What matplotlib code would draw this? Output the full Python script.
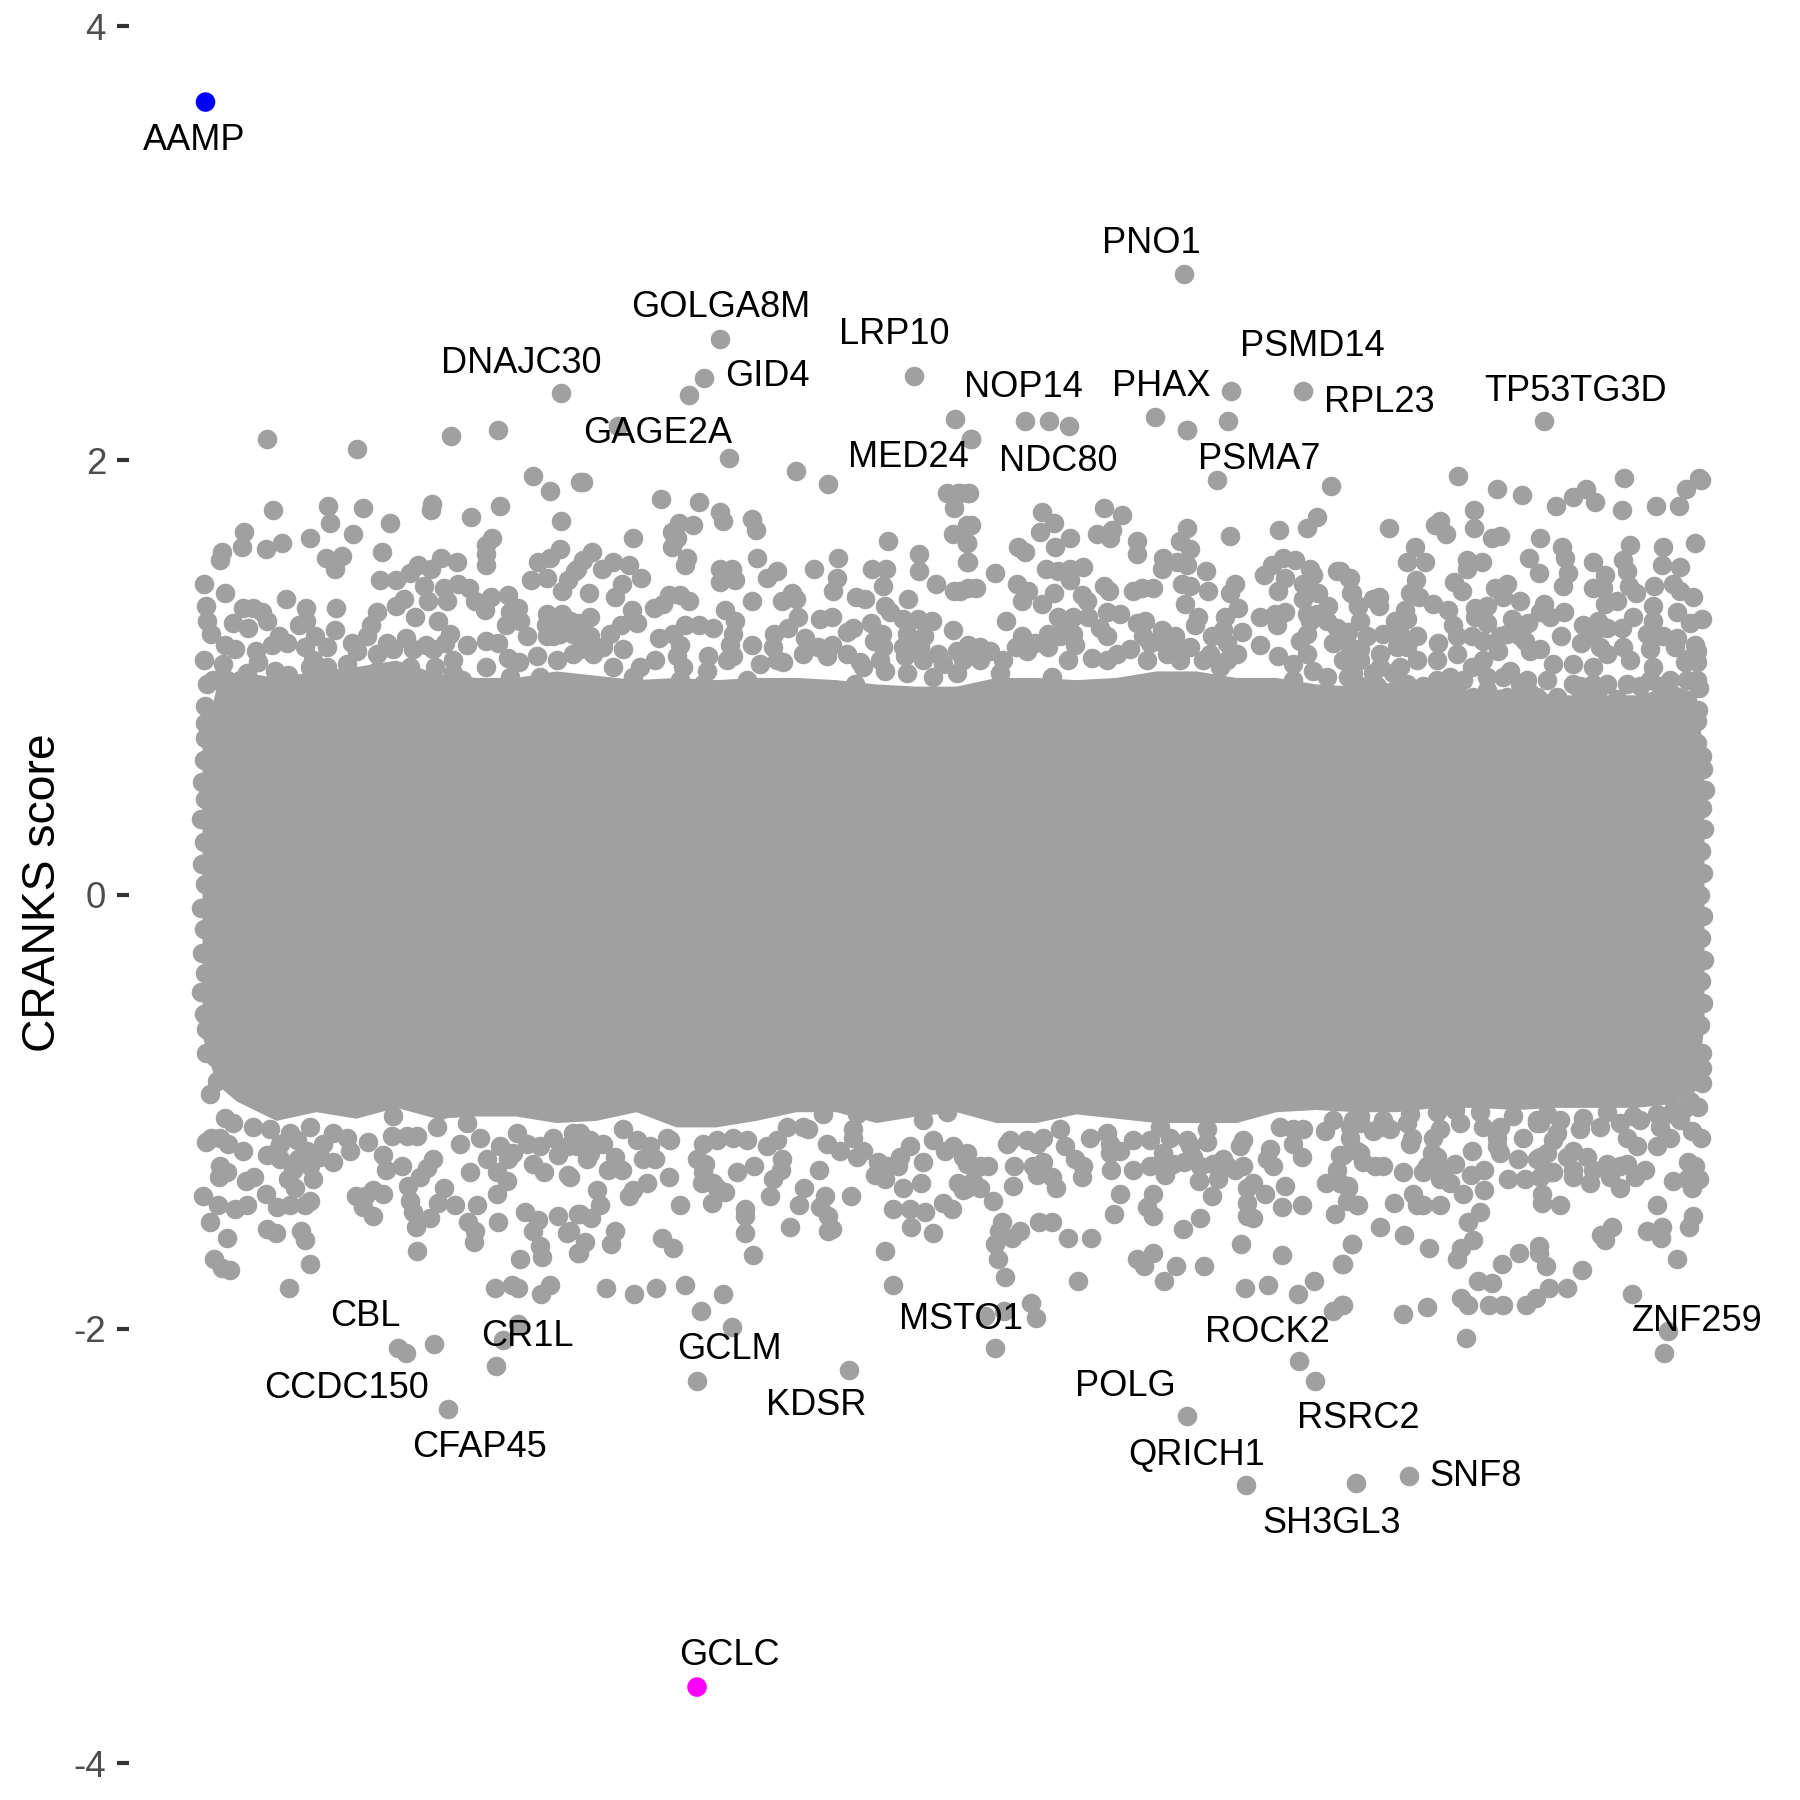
import numpy as np
import matplotlib
matplotlib.use("Agg")
import matplotlib.pyplot as plt

plt.rcParams['font.family'] = ['Liberation Sans', 'DejaVu Sans']

GREY = '#A0A0A0'

# solid part of the cloud : too many genes overlap there to read them one by one
env_rank = [6, 20, 40, 80, 120, 160, 200, 240, 280, 320, 360, 400, 440, 480, 520, 560, 600, 640, 680, 720, 760, 800,
            840, 880, 920, 960, 1000, 1040, 1080, 1120, 1160, 1200, 1240, 1280, 1320, 1360, 1400, 1440, 1480, 1500, 1508]
env_top = [0.68, 0.95, 1.03, 1.00, 1.03, 1.05, 1.08, 1.02, 1.00, 1.00, 1.03, 1.01, 0.99, 1.00, 0.99, 1.00, 1.00, 0.99, 0.97, 0.96, 0.96, 1.00,
           1.00, 0.99, 1.00, 1.03, 1.03, 1.00, 1.00, 0.97, 0.96, 0.98, 0.96, 0.94, 0.95, 0.92, 0.92, 0.92, 0.96, 0.93, 0.62]
env_bottom = [-0.65, -0.87, -0.95, -1.04, -1.00, -1.03, -0.98, -1.03, -1.02, -1.02, -1.05, -1.04, -1.00, -1.07, -1.07, -1.04, -1.00, -1.00, -1.05, -1.02, -1.00, -1.05,
              -1.05, -1.01, -1.03, -1.05, -1.05, -1.05, -1.00, -0.99, -1.00, -1.00, -0.98, -0.98, -0.99, -0.98, -0.98, -0.98, -0.96, -0.90, -0.60]

# genes on the sides of the cloud (rank, score)
side_left = [(8,0.62),(6,0.52),(9,0.44),(5,0.35),(8,0.24),(6,0.14),(9,0.05),(5,-0.06),(8,-0.16),(6,-0.27),(9,-0.36),(5,-0.45),(8,-0.55),(10,-0.62)]
side_right = [(1507,0.58),(1509,0.48),(1506,0.40),(1508,0.30),(1505,0.20),(1507,0.10),(1504,0.00),(1507,-0.10),(1505,-0.20),(1508,-0.30),(1505,-0.40),(1507,-0.50),(1504,-0.60)]

# genes along the cloud edge on the right part
rim_top = [(1177,1.02),(1197,1.02),(1254,0.97),(1291,0.94),(1341,0.91),(1357,0.88),(1384,0.96),(1401,0.93),(1421,0.90),(1444,0.96),(1464,0.96)]
rim_low = [(1164,-1.02),(1187,-1.04),(1214,-1.01),(1241,-1.00),(1259,-0.99),(1284,-1.00),(1317,-1.02),(1341,-1.04),(1364,-1.04),(1387,-1.03),(1411,-1.00),(1437,-1.02),(1461,-1.01),(1477,-0.99),(1497,-0.97)]

# genes above the cloud (rank, score)
top_a = [(71,2.10),(161,2.05),(255,2.11),(302,2.14),(337,1.93),(354,1.86),(384,1.90),(365,1.72),(77,1.77),(132,1.79),(167,1.78),(134,1.71),(157,1.66),(194,1.71),
         (236,1.80),(235,1.77),(275,1.74),(304,1.79),(48,1.67),(46,1.60),(26,1.58),(24,1.54),(70,1.59),(86,1.62),(114,1.64),(130,1.55),(146,1.56),(139,1.50),(186,1.58),
         (296,1.64),(290,1.61),(290,1.57),(290,1.52),(364,1.59),(342,1.53),(354,1.55),(335,1.45),(351,1.46),(366,1.40),(372,1.45),(381,1.50),(8,1.43),(29,1.39),(184,1.45),
         (200,1.45),(214,1.48),(222,1.52),(235,1.50),(245,1.55),(261,1.53),(228,1.42),(248,1.41),(262,1.43),(273,1.41),(279,1.35),(289,1.31),(295,1.37),(312,1.38),(251,1.35),
         (208,1.36),(200,1.33),(232,1.35),(219,1.28),(242,1.26),(254,1.20),(90,1.36),(110,1.32),(140,1.32),(10,1.33),(11,1.26),(47,1.32),(57,1.32),(66,1.30),(37,1.25),(52,1.23),
         (71,1.26),(110,1.26),(103,1.24),(139,1.22),(181,1.30),(175,1.24),(314,1.30),(322,1.32),(324,1.26),(310,1.24),(331,1.19),(351,1.29),(366,1.29),(382,1.25),(350,1.24),(357,1.19),
         (341,1.10),(15,1.20),(29,1.15),(39,1.13),(8,1.08),(27,1.06),(60,1.12),(76,1.15),(83,1.19),(91,1.16),(109,1.14),(119,1.19),(131,1.14),(156,1.16),(171,1.19),(191,1.16),(210,1.18),
         (230,1.15),(249,1.16),(271,1.15),(290,1.17),(302,1.16),(312,1.09),(323,1.07),(290,1.05),(266,0.99),(257,1.08),(239,1.05),(214,1.05),(181,1.03),(151,1.06),(114,1.05),(92,1.01),
         (79,1.03),(62,1.07),(11,0.97),(9,0.87),(52,0.90),(84,0.90),(107,0.93),(9,0.79),(9,0.72),
         (17,0.99),(31,0.99),(51,1.02),(77,0.97),(131,1.05),(161,1.12),(181,1.11),(197,1.13),(217,1.13),(237,1.13),(257,1.02),(117,1.08),(314,1.00),(344,1.00),(361,1.08),(377,1.11),(377,1.20),
         (364,1.20),(351,1.19),(361,1.25),(374,1.26)]
top_b = [(533,2.01),(600,1.95),(632,1.89),(387,1.90),(465,1.82),(503,1.81),(524,1.76),(527,1.72),(556,1.73),(560,1.68),(751,1.85),(762,1.85),(772,1.85),(758,1.78),(757,1.66),(771,1.70),
         (771,1.62),(771,1.53),(692,1.63),(483,1.71),(497,1.70),(476,1.67),(481,1.64),(476,1.60),(437,1.64),(491,1.55),(489,1.52),(396,1.58),(387,1.54),(379,1.49),(406,1.50),(417,1.53),
         (433,1.52),(445,1.46),(393,1.39),(426,1.43),(419,1.37),(436,1.31),(441,1.25),(425,1.24),(394,1.28),(561,1.55),(581,1.49),(571,1.46),(524,1.50),(536,1.50),(524,1.44),(539,1.45),
         (618,1.50),(642,1.55),(641,1.46),(637,1.40),(676,1.50),(690,1.50),(687,1.42),(723,1.57),(723,1.49),(740,1.43),(758,1.40),(712,1.36),(772,1.41),(660,1.37),(669,1.36),(689,1.33),
         (694,1.30),(556,1.35),(586,1.35),(596,1.39),(600,1.36),(602,1.28),(592,1.23),(578,1.20),(473,1.38),(484,1.38),(493,1.35),(458,1.32),(467,1.34),(529,1.31),(539,1.26),(537,1.20),
         (489,1.24),(503,1.24),(517,1.23),(477,1.20),(463,1.18),(624,1.27),(636,1.28),(651,1.21),(657,1.23),(675,1.25),(686,1.20),(678,1.17),(687,1.14),(707,1.27),(722,1.27),(736,1.26),
         (711,1.20),(728,1.19),(757,1.22),(709,1.10),(742,1.11),(761,1.12),(772,1.15),(556,1.15),(577,1.14),(609,1.18),(622,1.14),(636,1.15),(651,1.11),(664,1.07),(689,1.03),(534,1.15),
         (537,1.10),(512,1.10),(484,1.15),(459,1.08),(427,1.13),(414,1.20),(374,1.25),(384,1.23),(397,1.11),(417,1.05),(437,1.00),(551,0.99),(587,1.07),(711,1.02),(737,1.00),(761,1.02),
         (659,0.97),(507,0.97),(484,0.99),(394,0.96),
         (384,1.13),(407,1.14),(394,1.19),(444,1.05),(481,1.10),(531,1.08),(564,1.06),(581,1.08),(607,1.11),(631,1.10),(667,1.05),(684,1.08),(727,1.08),(747,1.06),(767,1.08),(707,1.14),(724,1.14),
         (487,1.05),(511,1.03)]
top_c = [(1021,1.91),(1135,1.88),(775,2.10),(991,2.14),(773,1.85),(764,1.85),(846,1.76),(858,1.71),(844,1.67),(874,1.64),(859,1.60),(822,1.60),(829,1.58),(908,1.78),(926,1.75),(901,1.66),
         (916,1.68),(914,1.64),(941,1.63),(941,1.57),(991,1.69),(984,1.63),(994,1.59),(967,1.55),(966,1.50),(981,1.53),(991,1.52),(1034,1.65),(1083,1.68),(1121,1.74),(1111,1.69),(775,1.70),
         (771,1.62),(772,1.53),(780,1.41),(799,1.48),(764,1.40),(821,1.43),(832,1.40),(826,1.35),(850,1.50),(862,1.49),(874,1.50),(887,1.51),(874,1.45),(858,1.39),(846,1.34),(886,1.38),
         (891,1.35),(908,1.42),(913,1.40),(937,1.40),(946,1.41),(957,1.41),(1010,1.49),(1012,1.40),(1039,1.43),(1034,1.39),(1042,1.32),(986,1.43),(994,1.42),(989,1.34),(1002,1.28),(999,1.24),
         (1029,1.28),(1068,1.47),(1076,1.52),(1087,1.55),(1099,1.54),(1089,1.46),(1082,1.40),(1114,1.50),(1117,1.47),(1107,1.43),(1122,1.39),(1107,1.36),(1132,1.33),(1141,1.49),(1154,1.46),
         (1156,1.39),(1162,1.33),(810,1.26),(826,1.19),(820,1.14),(831,1.12),(839,1.16),(852,1.14),(852,1.20),(862,1.28),(877,1.28),(892,1.28),(911,1.30),(924,1.29),(941,1.25),(949,1.26),
         (911,1.19),(879,1.15),(872,1.08),(896,1.09),(966,1.22),(979,1.19),(934,1.13),(954,1.16),(994,1.14),(1016,1.19),(1031,1.16),(1046,1.21),(1064,1.28),(1079,1.29),(1089,1.30),(1081,1.24),
         (1064,1.15),(1082,1.10),(1111,1.20),(1131,1.26),(1141,1.23),(1152,1.21),(1137,1.16),(1111,1.11),(1117,1.03),(1097,1.06),(1156,1.11),(1152,1.00),(774,1.13),(794,1.12),(784,1.14),(856,1.00),
         (804,1.02),(1024,1.05),
         (784,1.08),(807,1.08),(911,1.08),(921,1.11),(951,1.08),(971,1.11),(984,1.08),(1007,1.08),(1031,1.08),(1097,0.99),(1131,1.00),(1157,1.02),(864,1.19),(877,1.20),(867,1.23),(904,1.23),(947,1.19),
         (961,1.17),(977,1.13),(1014,1.11),(1027,1.22),(1114,1.26),(1111,1.29),(1121,1.29),(1104,1.17),(1041,1.11)]
top_d = [(1262,1.93),(1301,1.87),(1326,1.84),(1360,1.79),(1377,1.83),(1390,1.87),(1399,1.81),(1428,1.92),(1426,1.77),(1460,1.79),(1483,1.79),(1490,1.87),(1503,1.92),(1505,1.91),(1193,1.69),
         (1278,1.77),(1278,1.69),(1244,1.72),(1239,1.70),(1250,1.66),(1296,1.64),(1304,1.65),(1344,1.64),(1219,1.60),(1366,1.60),(1369,1.55),(1372,1.48),(1367,1.42),(1333,1.55),(1343,1.48),
         (1434,1.61),(1427,1.54),(1431,1.49),(1467,1.60),(1466,1.52),(1484,1.51),(1499,1.62),(1397,1.53),(1409,1.47),(1397,1.41),(1407,1.41),(1433,1.42),(1440,1.39),(1458,1.42),(1477,1.43),
         (1484,1.40),(1497,1.37),(1421,1.35),(1409,1.34),(1211,1.53),(1229,1.53),(1220,1.45),(1214,1.39),(1223,1.37),(1237,1.34),(1271,1.54),(1286,1.53),(1271,1.50),(1258,1.44),(1266,1.40),
         (1252,1.31),(1299,1.41),(1311,1.43),(1307,1.37),(1324,1.35),(1291,1.33),(1279,1.32),(1279,1.28),(1316,1.27),(1348,1.34),(1344,1.30),(1354,1.28),(1368,1.30),(1365,1.19),(1153,1.46),
         (1144,1.49),(1155,1.39),(1162,1.33),(1183,1.37),(1177,1.36),(1183,1.33),(1209,1.31),(1199,1.26),(1211,1.27),(1164,1.26),(1257,1.24),(1151,1.21),(1387,1.24),(1402,1.26),(1385,1.16),
         (1437,1.28),(1426,1.23),(1457,1.33),(1481,1.30),(1494,1.25),(1506,1.27),(1481,1.18),(1467,1.19),(1499,1.15),(1501,1.12),(1501,1.07),(1479,1.14),(1489,1.07),(1454,1.13),(1457,1.05),
         (1334,1.12),(1344,1.13),(1329,1.17),(1332,1.25),(1287,1.17),(1304,1.19),(1302,1.12),(1314,1.03),(1276,1.19),(1242,1.16),(1221,1.19),(1187,1.20),(1276,1.05),(1357,1.06),(1377,1.06),
         (1351,0.99),(1361,0.91),(1331,0.99),(1334,0.93),(1296,0.90),(1434,1.08),(1501,0.99),(1503,0.95),(1502,0.85),(1501,0.80),(1501,0.70),(1506,0.64),(1184,1.05),(1204,1.05),(1164,1.13),
         (1241,0.99),(1267,0.99),(1277,0.91),(1404,1.14),(1397,0.97),(1384,0.94),
         (1164,1.08),(1184,1.11),(1201,1.14),(1221,1.08),(1241,1.08),(1261,1.11),(1254,1.00),(1291,1.00),(1307,1.00),(1287,1.08),(1324,0.97),(1377,0.97),(1397,1.05),(1411,1.11),(1427,1.14),(1411,0.97),
         (1431,0.97),(1454,0.99),(1474,0.99),(1491,0.99),(1451,1.20),(1411,1.23),(1397,1.20),(1457,1.26),(1324,1.19),(1311,1.20),(1291,1.25),(1261,1.19),(1204,1.20),(1211,1.14),(1171,1.19),(1154,1.14),
         (1147,1.08),(1181,0.96),(1211,0.97),(1164,0.96),(1227,0.96),(1254,0.91),(1311,0.91),(1494,1.09)]
top_far = [(988,2.86),(524,2.56),(508,2.38),(493,2.30),(718,2.39),(365,2.31),(422,2.16),(759,2.19),(775,2.10),(829,2.18),(853,2.18),(873,2.16),(959,2.20),(991,2.14),(1107,2.32),(1035,2.32),(1032,2.18),(1348,2.18)]

# genes below the cloud (rank, score)
low_a = [(10,-0.73),(19,-0.75),(21,-0.86),(14,-0.92),(29,-1.03),(10,-1.14),(15,-1.12),(32,-1.15),(47,-1.18),(24,-1.25),(31,-1.28),(23,-1.30),(58,-1.30),(50,-1.32),(7,-1.39),(22,-1.43),(39,-1.45),
         (51,-1.43),(14,-1.51),(31,-1.58),(18,-1.68),(26,-1.72),(34,-1.73),(93,-1.81),(71,-1.54),(80,-1.56),(105,-1.55),(109,-1.59),(114,-1.70),(70,-1.38),(81,-1.44),(94,-1.43),(109,-1.43),
         (114,-1.41),(92,-1.31),(99,-1.35),(117,-1.31),(71,-1.20),(84,-1.22),(102,-1.22),(114,-1.25),(137,-1.23),(154,-1.18),(172,-1.14),(196,-1.11),(211,-1.11),(221,-1.11),(241,-1.07),(81,-1.18),
         (127,-1.15),(187,-1.20),(190,-1.27),(206,-1.25),(237,-1.22),(231,-1.26),(224,-1.30),(212,-1.34),(248,-1.35),(160,-1.39),(169,-1.39),(177,-1.36),(187,-1.38),(167,-1.44),(177,-1.48),(214,-1.41),
         (217,-1.46),(242,-1.42),(234,-1.49),(259,-1.43),(281,-1.43),(272,-1.51),(279,-1.55),(278,-1.60),(220,-1.53),(221,-1.64),(264,-1.15),(274,-1.28),(301,-1.28),(311,-1.32),(301,-1.38),(302,-1.51),
         (291,-1.22),(312,-1.22),(337,-1.24),(348,-1.28),(372,-1.29),(362,-1.20),(372,-1.16),(329,-1.46),(342,-1.50),(337,-1.55),(344,-1.62),(346,-1.67),(324,-1.68),(362,-1.48),(382,-1.47),(371,-1.56),
         (382,-1.65),(299,-1.81),(316,-1.80),(322,-1.81),(345,-1.84),(354,-1.80),(322,-1.98),(307,-2.05),(202,-2.09),(210,-2.11),(238,-2.07),(300,-2.17),(252,-2.37),
         (37,-1.05),(57,-1.07),(74,-1.08),(94,-1.10),(114,-1.07),(137,-1.10),(151,-1.12),(84,-1.15),(101,-1.13),(111,-1.18),(97,-1.27),(124,-1.21),(24,-1.12),(197,-1.02),(244,-0.99),(271,-1.05),
         (284,-1.12),(304,-1.16),(317,-1.19),(331,-1.15),(344,-1.16),(357,-1.12),(377,-1.10),(321,-1.10)]
low_b = [(410,-1.81),(438,-1.84),(460,-1.81),(489,-1.80),(527,-1.84),(505,-1.92),(536,-1.99),(501,-2.24),(653,-2.19),(689,-1.64),(697,-1.80),(557,-1.66),(549,-1.56),(549,-1.45),(549,-1.48),(594,-1.53),
         (477,-1.63),(466,-1.58),(415,-1.61),(419,-1.55),(389,-1.60),(383,-1.65),(374,-1.55),(384,-1.47),(395,-1.49),(404,-1.43),(401,-1.36),(484,-1.43),(433,-1.39),(451,-1.33),(437,-1.36),(473,-1.30),
         (516,-1.42),(529,-1.37),(506,-1.33),(517,-1.33),(541,-1.28),(574,-1.39),(577,-1.31),(585,-1.27),(586,-1.22),(558,-1.25),(608,-1.35),(603,-1.43),(623,-1.27),(629,-1.39),(624,-1.44),(632,-1.48),
         (636,-1.54),(632,-1.55),(655,-1.39),(707,-1.35),(725,-1.33),(697,-1.45),(714,-1.45),(729,-1.46),(715,-1.53),(737,-1.56),(747,-1.42),(756,-1.45),(762,-1.33),(767,-1.36),(689,-1.31),(679,-1.29),
         (702,-1.25),(727,-1.23),(749,-1.18),(767,-1.21),(682,-1.23),(661,-1.21),(631,-1.15),(644,-1.18),(509,-1.24),(501,-1.22),(447,-1.22),(459,-1.22),(412,-1.27),(426,-1.27),(391,-1.22),(374,-1.30),
         (419,-1.21),(551,-1.13),(537,-1.12),(581,-1.13),(612,-1.08),(657,-1.08),(727,-1.04),(751,-1.00),(474,-1.13),(441,-1.13),(394,-1.13),
         (384,-1.10),(407,-1.15),(427,-1.08),(454,-1.16),(471,-1.12),(507,-1.15),(521,-1.13),(571,-1.16),(591,-1.07),(607,-1.07),(657,-1.12),(667,-1.18),(714,-1.16),(737,-1.13),(757,-1.16),(704,-1.21),
         (691,-1.25),(771,-1.24),(394,-1.19),(381,-1.16),(507,-1.28),(521,-1.35),(661,-1.01),(627,-1.01)]
low_c = [(799,-2.09),(840,-1.95),(835,-1.88),(808,-1.92),(789,-1.94),(809,-1.76),(802,-1.68),(799,-1.61),(803,-1.55),(806,-1.51),(824,-1.55),(816,-1.58),(843,-1.51),(856,-1.51),(872,-1.58),(895,-1.58),
         (882,-1.78),(797,-1.41),(817,-1.34),(818,-1.25),(837,-1.25),(841,-1.29),(847,-1.23),(856,-1.30),(860,-1.35),(869,-1.16),(879,-1.22),(887,-1.25),(886,-1.30),(792,-1.25),(784,-1.35),(771,-1.35),
         (894,-1.12),(914,-1.19),(915,-1.27),(924,-1.38),(918,-1.47),(957,-1.38),(951,-1.44),(957,-1.48),(937,-1.27),(954,-1.25),(967,-1.19),(969,-1.29),(988,-1.23),(1004,-1.25),(1003,-1.32),(1016,-1.39),
         (1004,-1.49),(987,-1.54),(1011,-1.14),(1022,-1.31),(1027,-1.22),(1039,-1.27),(1051,-1.35),(1051,-1.42),(1051,-1.48),(1057,-1.49),(1045,-1.61),(1069,-1.38),(1077,-1.25),(1089,-1.34),(1086,-1.44),
         (1106,-1.43),(1106,-1.21),(1074,-1.17),(1129,-1.09),(1144,-1.20),(1161,-1.18),(1141,-1.27),(1130,-1.33),(1152,-1.34),(1151,-1.41),(1139,-1.47),(1161,-1.43),(1086,-1.66),(1156,-1.61),(1147,-1.70),
         (1118,-1.78),(1102,-1.84),(1072,-1.80),(1049,-1.81),(1147,-1.89),(1137,-1.92),(1103,-2.15),(1119,-2.24),(941,-1.68),(957,-1.65),(948,-1.71),(980,-1.71),(1008,-1.71),(968,-1.78),(1047,-1.13),
         (1097,-1.08),(964,-1.07),(937,-1.13),(814,-1.13),(841,-1.15),(914,-1.15),(991,-1.13),(991,-2.40),(1050,-2.72),(1160,-2.71),(1213,-2.68),
         (771,-1.19),(784,-1.25),(777,-1.32),(811,-1.15),(831,-1.13),(847,-1.12),(864,-1.08),(911,-1.10),(924,-1.18),(954,-1.13),(974,-1.12),(994,-1.16),(1011,-1.08),(1044,-1.16),(1047,-1.25),(1031,-1.25),
         (1017,-1.24),(1057,-1.33),(1071,-1.22),(1097,-1.15),(1107,-1.08),(1084,-1.07),(1154,-1.07),(1137,-1.04),(997,-1.21),(977,-1.24),(964,-1.24)]
low_d = [(1162,-1.43),(1144,-1.33),(1152,-1.35),(1156,-1.61),(1146,-1.70),(1146,-1.89),(1184,-1.53),(1208,-1.57),(1233,-1.63),(1207,-1.93),(1231,-1.90),(1270,-2.04),(1198,-1.42),(1221,-1.43),(1227,-1.43),
         (1217,-1.38),(1244,-1.43),(1267,-1.38),(1288,-1.36),(1284,-1.46),(1272,-1.51),(1277,-1.59),(1265,-1.63),(1261,-1.68),(1306,-1.70),(1323,-1.65),(1343,-1.62),(1343,-1.65),(1350,-1.71),(1282,-1.78),
         (1296,-1.79),(1386,-1.73),(1353,-1.81),(1371,-1.81),(1265,-1.86),(1272,-1.89),(1293,-1.89),(1307,-1.89),(1330,-1.89),(1340,-1.86),(1436,-1.84),(1472,-2.01),(1468,-2.11),(1481,-1.68),(1405,-1.57),
         (1416,-1.53),(1409,-1.59),(1451,-1.55),(1466,-1.53),(1465,-1.58),(1461,-1.43),(1497,-1.48),(1493,-1.53),(1477,-1.32),(1491,-1.31),(1503,-1.31),(1496,-1.35),(1492,-1.23),(1499,-1.25),(1496,-1.09),
         (1505,-1.12),(1502,-0.98),(1506,-0.87),(1506,-0.80),(1506,-0.73),(1364,-1.43),(1346,-1.42),(1346,-1.38),(1312,-1.31),(1329,-1.31),(1322,-1.22),(1275,-1.29),(1288,-1.27),(1276,-1.18),(1207,-1.28),
         (1187,-1.25),(1179,-1.25),(1164,-1.19),(1167,-1.23),(1147,-1.20),(1177,-1.09),(1194,-1.08),(1216,-1.12),(1236,-1.19),(1244,-1.31),(1259,-1.24),(1227,-1.28),(1157,-1.04),(1244,-1.08),(1301,-1.16),
         (1304,-1.07),(1327,-1.12),(1344,-1.21),(1354,-1.28),(1377,-1.30),(1394,-1.33),(1424,-1.35),(1439,-1.30),(1449,-1.27),(1431,-1.24),(1461,-1.16),(1441,-1.16),(1474,-1.12),(1431,-1.12),(1351,-1.01),
         (1341,-1.05),(1357,-1.13),(1377,-1.18),(1487,-0.99),
         (1344,-1.05),(1361,-1.10),(1384,-1.08),(1404,-1.07),(1424,-1.05),(1444,-1.04),(1464,-1.07),(1477,-1.01),(1351,-1.19),(1371,-1.21),(1391,-1.21),(1411,-1.24),(1357,-1.28),(1377,-1.27),(1397,-1.27),
         (1414,-1.30),(1424,-1.25),(1341,-1.22),(1344,-1.30),(1304,-1.19),(1301,-1.12),(1287,-1.07),(1264,-1.05),(1237,-1.12),(1241,-1.21),(1231,-1.25),(1247,-1.27),(1254,-1.33),(1211,-1.05),(1184,-1.07),
         (1164,-1.05),(1154,-1.12),(1214,-1.15),(1494,-0.95),(1484,-1.04)]

# the two coloured genes
hit_rank = [9.5, 501]
hit_score = [3.65, -3.65]
hit_col = ['#0000FF', '#FF00FF']

# gene names (name, rank, score of the text)
gene_names = ['AAMP', 'PNO1', 'GOLGA8M', 'LRP10', 'DNAJC30', 'GID4', 'GAGE2A', 'NOP14', 'PHAX', 'PSMD14', 'RPL23', 'TP53TG3D', 'MED24', 'NDC80', 'PSMA7',
              'CBL', 'CR1L', 'GCLM', 'MSTO1', 'ROCK2', 'ZNF259', 'CCDC150', 'KDSR', 'POLG', 'RSRC2', 'CFAP45', 'QRICH1', 'SNF8', 'SH3GL3', 'GCLC']
name_rank = [-2, 955, 525, 698, 325, 571, 462, 827, 965, 1116, 1183, 1380, 712, 862, 1063,
             169, 331, 533, 765, 1071, 1501, 150, 620, 929, 1162, 284, 1001, 1280, 1136, 533]
name_score = [3.475, 3.00, 2.705, 2.58, 2.445, 2.385, 2.125, 2.335, 2.34, 2.525, 2.265, 2.315, 2.015, 1.995, 2.005,
              -1.945, -2.035, -2.095, -1.955, -2.015, -1.965, -2.275, -2.355, -2.265, -2.415, -2.545, -2.585, -2.68, -2.895, -3.505]

yticks = [-4, -2, 0, 2, 4]
ytick_labels = ['-4', '-2', '0', '2', '4']

fig = plt.figure(figsize=(6, 6), dpi=300)
ax = fig.add_axes([129/1800, 0, 1671/1800, 1])

ax.fill_between(env_rank, env_bottom, env_top, color=GREY, linewidth=0)

pts = np.array(side_left + side_right + rim_top + rim_low + top_a + top_b + top_c + top_d + top_far + low_a + low_b + low_c + low_d)
ax.scatter(pts[:, 0], pts[:, 1], s=22, c=GREY, linewidths=0)
ax.scatter(hit_rank, hit_score, s=22, c=hit_col, linewidths=0)

for name, r, s in zip(gene_names, name_rank, name_score):
    ax.text(r, s, name, ha='center', va='center', fontsize=8.68, color='black', zorder=5)

ax.set_xlim(-67, 1604)
ax.set_ylim(-4.17, 4.12)
ax.set_xticks([])
ax.set_yticks(yticks)
ax.set_yticklabels(ytick_labels)
ax.tick_params(axis='y', length=2.9, width=1.0, color='#333333', labelcolor='#4D4D4D', labelsize=8.8, pad=2.6)
for sp in ax.spines.values():
    sp.set_visible(False)
fig.text(43.5/1800, 0.504, 'CRANKS score', rotation=90, ha='center', va='center', fontsize=11.1, color='black')

fig.savefig('out.png', dpi=300)
